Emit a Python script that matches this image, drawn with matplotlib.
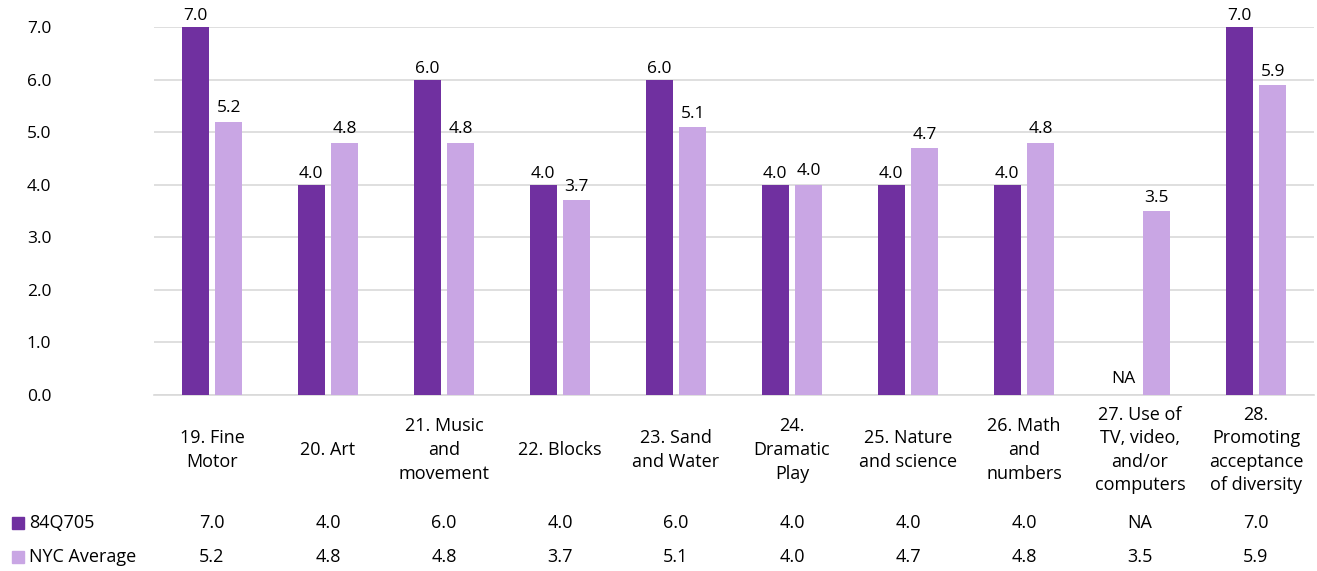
import numpy as np
import matplotlib
matplotlib.use('Agg')
import matplotlib.pyplot as plt
from matplotlib.patches import Rectangle
from matplotlib import transforms

plt.rcParams['font.family'] = ['Open Sans', 'DejaVu Sans']

categories = ['19. Fine\nMotor', '20. Art', '21. Music\nand\nmovement', '22. Blocks',
              '23. Sand\nand Water', '24.\nDramatic\nPlay', '25. Nature\nand science',
              '26. Math\nand\nnumbers', '27. Use of\nTV, video,\nand/or\ncomputers',
              '28.\nPromoting\nacceptance\nof diversity']
school = [7.0, 4.0, 6.0, 4.0, 6.0, 4.0, 4.0, 4.0, None, 7.0]
nyc_avg = [5.2, 4.8, 4.8, 3.7, 5.1, 4.0, 4.7, 4.8, 3.5, 5.9]
series_names = ['84Q705', 'NYC Average']
yticks = [0, 1, 2, 3, 4, 5, 6, 7]

dark = '#7030a0'
light = '#c9a6e4'

fig = plt.figure(figsize=(13.17, 5.71), dpi=100)
ax = fig.add_axes([154 / 1317, 1 - 395 / 571, 1160 / 1317, 368 / 571])

x = np.arange(len(categories))
w = 0.235
off = 0.145

for i, v in enumerate(school):
    if v is None:
        ax.text(x[i] - off, 0.15, 'NA', ha='center', va='bottom', fontsize=12.5)
    else:
        ax.bar(x[i] - off, v, w, color=dark, zorder=3)
        ax.text(x[i] - off, v + 0.05, f'{v:.1f}', ha='center', va='bottom', fontsize=12.5)
for i, v in enumerate(nyc_avg):
    ax.bar(x[i] + off, v, w, color=light, zorder=3)
    ax.text(x[i] + off, v + 0.1, f'{v:.1f}', ha='center', va='bottom', fontsize=12.5)

ax.set_xlim(-0.5, len(categories) - 0.5)
ax.set_ylim(0, 7)
ax.set_yticks(yticks)
ax.set_yticklabels([f'{t:.1f}' for t in yticks], fontsize=12.5)
ax.set_xticks([])
ax.grid(axis='y', color='#d9d9d9', linewidth=1.2, zorder=0)
for s in ['top', 'right', 'left']:
    ax.spines[s].set_visible(False)
ax.spines['bottom'].set_color('#d9d9d9')
ax.spines['bottom'].set_linewidth(1.2)
ax.tick_params(axis='y', length=0, pad=74)

# category labels and data table
trans = transforms.blended_transform_factory(ax.transData, fig.transFigure)
for i, c in enumerate(categories):
    ax.text(x[i], 1 - 450 / 571, c, transform=trans, ha='center', va='center',
            fontsize=13, linespacing=1.4)
    s = 'NA' if school[i] is None else f'{school[i]:.1f}'
    ax.text(x[i], 1 - 523 / 571, s, transform=trans, ha='center', va='center', fontsize=13)
    ax.text(x[i], 1 - 557 / 571, f'{nyc_avg[i]:.1f}', transform=trans, ha='center',
            va='center', fontsize=13)

for name, col, yy in zip(series_names, [dark, light], [523, 557]):
    fig.patches.append(Rectangle((12 / 1317, 1 - (yy + 6) / 571), 12 / 1317, 12 / 571,
                                 transform=fig.transFigure, color=col))
    fig.text(29 / 1317, 1 - yy / 571, name, ha='left', va='center', fontsize=13)

fig.savefig('out.png', dpi=100)
